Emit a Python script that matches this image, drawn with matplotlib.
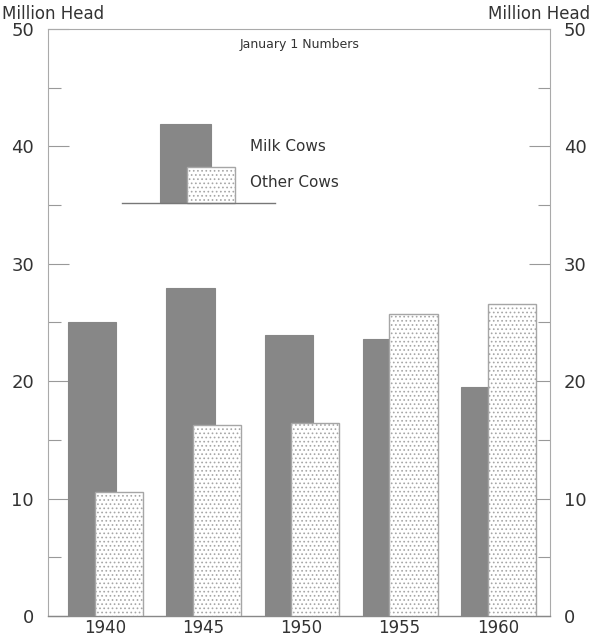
import numpy as np
import matplotlib.pyplot as plt
from matplotlib.patches import Rectangle
from matplotlib.lines import Line2D

# January 1 numbers, million head
years = ['1940', '1945', '1950', '1955', '1960']
milk_cows = [25.0, 27.9, 23.9, 23.6, 19.5]
other_cows = [10.6, 16.3, 16.4, 25.7, 26.6]

plt.rcParams['font.family'] = ['DejaVu Sans']
plt.rcParams['hatch.linewidth'] = 0.7

dark = '#878787'
edge = '#a6a6a6'
txt = '#333333'

fig = plt.figure(figsize=(5.91, 6.40), dpi=100)
ax = fig.add_axes([0.0812, 0.0375, 0.8494, 0.9172])

x = np.arange(len(years))
w = 0.49
ax.bar(x - 0.13, milk_cows, w, color=dark, edgecolor=dark, linewidth=0.8, zorder=2)
ax.bar(x + 0.14, other_cows, w, color='white', edgecolor=edge, hatch='....',
       linewidth=1.0, zorder=3)

ax.set_xlim(-0.58, 4.53)
ax.set_ylim(0, 50)

ax.set_xticks(x)
ax.set_xticklabels(years)
ax.tick_params(axis='x', length=0, pad=2, labelsize=12, colors=txt)

ax.set_yticks(range(0, 51, 10))
ax.set_yticks(range(5, 50, 10), minor=True)
ax.tick_params(axis='y', which='both', direction='in', left=True, right=True,
               labelleft=True, labelright=True, color='#999999', width=0.8,
               labelsize=13, labelcolor=txt, pad=10)
ax.tick_params(axis='y', which='major', length=15)
ax.tick_params(axis='y', which='minor', length=9)

for s in ['top', 'left', 'right']:
    ax.spines[s].set_color('#aaaaaa')
    ax.spines[s].set_linewidth(0.8)
ax.spines['bottom'].set_color('#888888')
ax.spines['bottom'].set_linewidth(1.0)

fig.text(0.003, 0.978, 'Million Head', ha='left', va='center', fontsize=12, color=txt)
fig.text(0.998, 0.978, 'Million Head', ha='right', va='center', fontsize=12, color=txt)
ax.text(0.502, 0.973, 'January 1 Numbers', transform=ax.transAxes, ha='center',
        va='center', fontsize=9, color=txt)

# legend drawn as a small bar sketch
ax.add_patch(Rectangle((0.223, 0.704), 0.102, 0.134, transform=ax.transAxes,
                       facecolor=dark, edgecolor=dark, linewidth=0.8, zorder=2))
ax.add_patch(Rectangle((0.277, 0.704), 0.0955, 0.061, transform=ax.transAxes,
                       facecolor='white', edgecolor=edge, hatch='....',
                       linewidth=1.0, zorder=3))
ax.add_line(Line2D([0.147, 0.452], [0.704, 0.704], transform=ax.transAxes,
                   color='#777777', linewidth=1.0, zorder=4))
ax.text(0.402, 0.799, 'Milk Cows', transform=ax.transAxes, ha='left',
        va='center', fontsize=11, color=txt)
ax.text(0.402, 0.738, 'Other Cows', transform=ax.transAxes, ha='left',
        va='center', fontsize=11, color=txt)

plt.savefig('out.png', dpi=100)
